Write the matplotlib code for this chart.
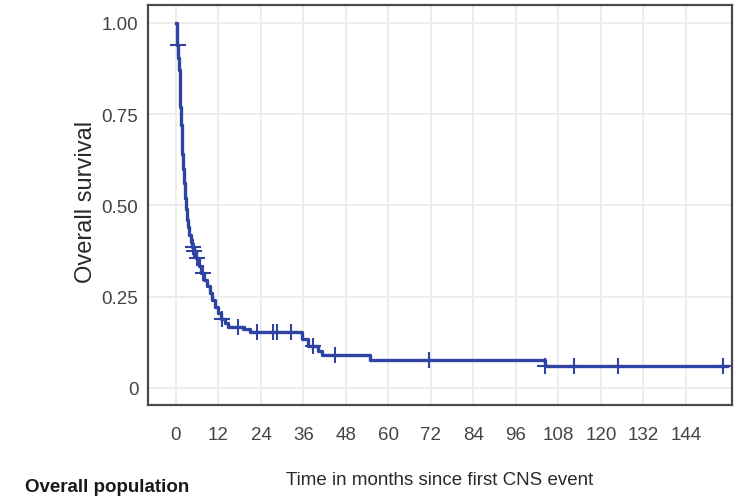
import numpy as np
import matplotlib
matplotlib.use("Agg")
import matplotlib.pyplot as plt

plt.rcParams['font.family'] = ['Liberation Sans', 'DejaVu Sans']

# Kaplan-Meier estimate: event times (months) and survival after each step
km_time = [0, 0.2, 0.4, 0.6, 0.8, 1.0, 1.2, 1.4, 1.6, 1.8, 2.0, 2.3, 2.6, 2.9,
           3.2, 3.5, 3.8, 4.2, 4.6, 5.0, 5.6, 6.4, 7.2, 8.0, 8.8, 9.6, 10.3,
           11.0, 11.8, 12.6, 13.8, 14.8, 19.0, 21.0, 35.6, 37.3, 40.0, 41.2,
           54.8, 104.2]
km_surv = [1.0, 0.97, 0.94, 0.905, 0.87, 0.82, 0.77, 0.72, 0.68, 0.64, 0.60,
           0.56, 0.52, 0.49, 0.46, 0.44, 0.42, 0.40, 0.387, 0.375, 0.355,
           0.335, 0.315, 0.295, 0.28, 0.26, 0.24, 0.222, 0.205, 0.19, 0.178,
           0.168, 0.16, 0.153, 0.134, 0.115, 0.100, 0.090, 0.077, 0.060]
last_followup = 155.6
censor_time = [0.5, 4.8, 5.2, 5.9, 7.6, 13.0, 17.5, 23.0, 27.4, 28.5, 32.5,
               38.7, 44.9, 71.4, 104.3, 112.4, 124.8, 154.4]

x_ticks = list(range(0, 145, 12))
y_ticks = [0, 0.25, 0.50, 0.75, 1.00]
y_ticklabels = ['0', '0.25', '0.50', '0.75', '1.00']

line_col = '#2f44a2'
txt_col = '#2a2a2a'

fig = plt.figure(figsize=(7.41, 5.02), dpi=100)
ax = fig.add_axes([148 / 741, 1 - 406 / 502, 584 / 741, 400 / 502])

t = np.array(km_time + [last_followup])
s = np.array(km_surv + [km_surv[-1]])
ax.step(t, s, where='post', color=line_col, lw=2.4, zorder=3)

# censored observations sit on the curve
ct = np.array(censor_time)
idx = np.searchsorted(np.array(km_time), ct, side='right') - 1
cs = np.array(km_surv)[idx]
ax.plot(ct, cs, ls='none', marker='+', ms=12, mew=1.5, color=line_col, zorder=4)

ax.set_xlim(-7.9, 157)
ax.set_ylim(-0.047, 1.049)
ax.set_xticks(x_ticks)
ax.set_yticks(y_ticks)
ax.set_yticklabels(y_ticklabels)
ax.grid(True, color='#ececec', lw=1.3)
ax.set_axisbelow(True)
ax.tick_params(length=0, labelsize=13.5, labelcolor='#444444')
ax.tick_params(axis='x', pad=15)
ax.tick_params(axis='y', pad=7)

for sp in ax.spines.values():
    sp.set_color('#4a4a4a')
    sp.set_linewidth(1.6)

ax.set_xlabel('Time in months since first CNS event', fontsize=13.5, color=txt_col)
ax.xaxis.set_label_coords(0.5, (406 - 481) / 400)
ax.xaxis.label.set_va('center')
ax.set_ylabel('Overall survival', fontsize=17, color=txt_col)
ax.yaxis.set_label_coords((86 - 148) / 584, (406 - 202) / 400)
ax.yaxis.label.set_va('center')

fig.text(25 / 741, 1 - 488 / 502, 'Overall population', fontsize=13.5,
         fontweight='bold', color='#1a1a1a', va='center', ha='left')

fig.savefig('out.png', dpi=100)
